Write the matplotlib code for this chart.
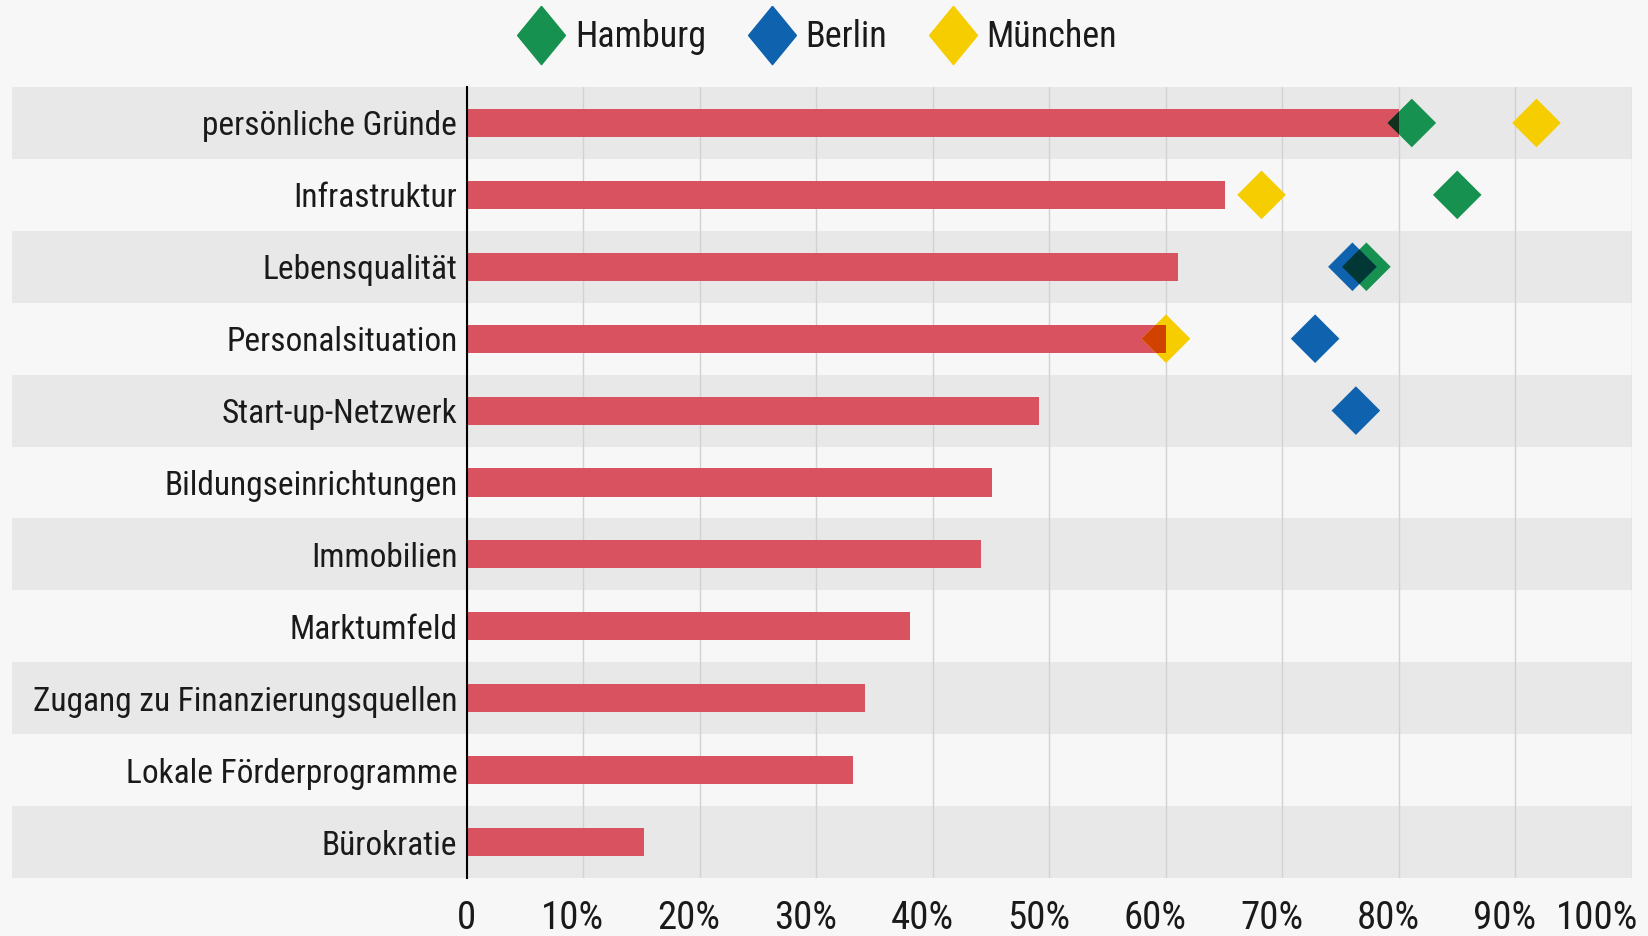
import numpy as np
import matplotlib
matplotlib.use('Agg')
import matplotlib.pyplot as plt
import matplotlib.transforms as mtransforms
from matplotlib.patches import Polygon
from matplotlib.lines import Line2D
from matplotlib.colors import to_rgb

plt.rcParams['font.family'] = ['Roboto Condensed', 'DejaVu Sans']
plt.rcParams['font.stretch'] = 'condensed'

# data (percent)
categories = ['persönliche Gründe', 'Infrastruktur', 'Lebensqualität', 'Personalsituation',
              'Start-up-Netzwerk', 'Bildungseinrichtungen', 'Immobilien', 'Marktumfeld',
              'Zugang zu Finanzierungsquellen', 'Lokale Förderprogramme', 'Bürokratie']
bar_values = [80, 65.1, 61, 60, 49.1, 45.1, 44.1, 38, 34.2, 33.1, 15.2]
nan = np.nan
hamburg_values = [81.1, 85, 77.2, nan, nan, nan, nan, nan, nan, nan, nan]
berlin_values = [nan, nan, 76, 72.8, 76.3, nan, nan, nan, nan, nan, nan]
muenchen_values = [91.8, 68.2, nan, 60, nan, nan, nan, nan, nan, nan, nan]
cities = ['Hamburg', 'Berlin', 'München']
xticks = [0, 10, 20, 30, 40, 50, 60, 70, 80, 90, 100]
xtick_labels = ['0', '10%', '20%', '30%', '40%', '50%', '60%', '70%', '80%', '90%', '100%']

bar_color = '#d9525f'
city_colors = ['#16914f', '#0f62ae', '#f6cd00']
bg = '#f7f7f7'
band = '#e8e8e8'
txt = '#1a1a1a'

fig = plt.figure(figsize=(16.49, 9.36), dpi=100, facecolor=bg)
ax = fig.add_axes([467 / 1649, 1 - 878 / 936, 1165 / 1649, 791 / 936])
ax.set_facecolor('none')

y = np.arange(len(categories))

# alternating row bands, running under the labels too
for i in y:
    if i % 2 == 0:
        ax.axhspan(i - 0.5, i + 0.5, xmin=-455 / 1165, xmax=1, facecolor=band,
                   edgecolor='none', zorder=0, clip_on=False)

bars = ax.barh(y, bar_values, height=0.39, color=bar_color, zorder=2)


def mult(c1, c2):
    a = np.array(to_rgb(c1))
    b = np.array(to_rgb(c2))
    return tuple(a * b)


def diamond(x, yy, color, half=17.5, z=4):
    # diamond drawn in points around a data position
    verts = np.array([[0, half], [half, 0], [0, -half], [-half, 0]])
    tr = mtransforms.Affine2D().scale(fig.dpi / 72) + \
        mtransforms.ScaledTranslation(x, yy, ax.transData)
    p = Polygon(verts, closed=True, facecolor=color, edgecolor='none',
                transform=tr, zorder=z)
    ax.add_patch(p)
    return p


all_values = [hamburg_values, berlin_values, muenchen_values]
for i in y:
    drawn = []
    for vals, col in zip(all_values, city_colors):
        v = vals[i]
        if np.isnan(v):
            continue
        p = diamond(v, i, col)
        # multiply look where a diamond sits on the bar
        o = diamond(v, i, mult(col, bar_color), z=5)
        o.set_clip_path(bars[i])
        # and where two diamonds overlap
        for q, qcol in drawn:
            o2 = diamond(v, i, mult(col, qcol), z=6)
            o2.set_clip_path(q)
        drawn.append((p, col))

ax.set_xlim(0, 100)
ax.set_ylim(len(categories) - 0.5, -0.5)

ax.set_yticks(y)
ax.set_yticklabels(categories, fontsize=24, color=txt)
ax.set_xticks(xticks)
ax.set_xticklabels(xtick_labels, fontsize=28, color=txt)
ax.tick_params(axis='y', length=0, pad=7)
ax.tick_params(axis='x', length=0, pad=16)

# the percent labels sit a little left of their gridline, the last one ends at it
for k, lab in enumerate(ax.get_xticklabels()):
    if k == 0:
        continue
    dx = -35 if k == len(xticks) - 1 else -11
    lab.set_transform(lab.get_transform() +
                      mtransforms.ScaledTranslation(dx / 100, 0, fig.dpi_scale_trans))

ax.set_axisbelow(True)
ax.xaxis.grid(True, color='#d2d2d2', lw=1)
ax.yaxis.grid(False)
for s in ['top', 'right', 'bottom']:
    ax.spines[s].set_visible(False)
ax.spines['left'].set_color('black')
ax.spines['left'].set_linewidth(1.5)
ax.spines['left'].set_zorder(7)

# legend on top
leg_marker = [(0, 1), (0.82, 0), (0, -1), (-0.82, 0), (0, 1)]
handles = [Line2D([], [], marker=leg_marker, ms=42, color=c, linestyle='none')
           for c in city_colors]
fig.legend(handles, cities, loc='center', bbox_to_anchor=(0.496, 0.96), ncol=3,
           frameon=False, fontsize=26, handlelength=1.25, handletextpad=0.3,
           columnspacing=1.2, labelcolor=txt)

fig.savefig('out.png', dpi=100, facecolor=bg)
